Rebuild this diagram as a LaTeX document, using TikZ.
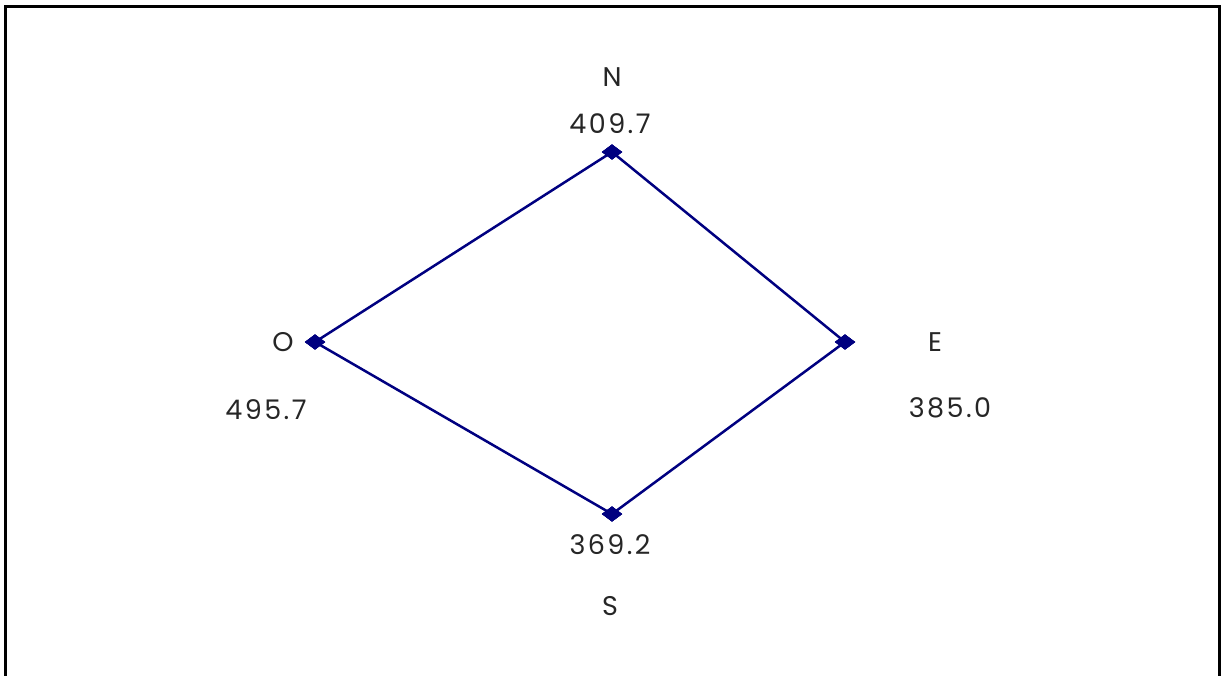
\documentclass[tikz,border=0pt]{standalone}
\usepackage{fontspec}
\setmainfont[LetterSpace=9]{Poppins}
\usetikzlibrary{shapes.geometric}
\definecolor{navy}{RGB}{0,0,128}
\tikzset{
  lbl/.style={font=\fontsize{27}{30}\selectfont, text=black!85, inner sep=0pt, anchor=center},
  pt/.style={diamond, fill=navy, draw=navy, inner sep=0pt, minimum width=20pt, minimum height=15pt},
  edge/.style={draw=navy, line width=2.5pt}
}
\begin{document}
\begin{tikzpicture}[x=1pt,y=-1pt]
\useasboundingbox (0,0) rectangle (1223,675);
\draw[line width=3pt] (5.5,680) -- (5.5,6.5) -- (1219.5,6.5) -- (1219.5,680);
\node[pt] (n) at (612,152) {};
\node[pt] (o) at (315,342) {};
\node[pt] (e) at (845,342) {};
\node[pt] (s) at (612,514) {};
\draw[edge] (n.center) -- (e.center) -- (s.center) -- (o.center) -- (n.center);
\node[pt] at (n) {};
\node[pt] at (o) {};
\node[pt] at (e) {};
\node[pt] at (s) {};
\node[lbl] (nl) at (612,77) {N};
\node[lbl] (nv) at (610,124) {409.7};
\node[lbl] (ol) at (283,342) {O};
\node[lbl] (ov) at (266,410) {495.7};
\node[lbl] (el) at (935,342) {E};
\node[lbl] (ev) at (950,408) {385.0};
\node[lbl] (sv) at (610,545) {369.2};
\node[lbl] (sl) at (610,606) {S};
\end{tikzpicture}
\end{document}
